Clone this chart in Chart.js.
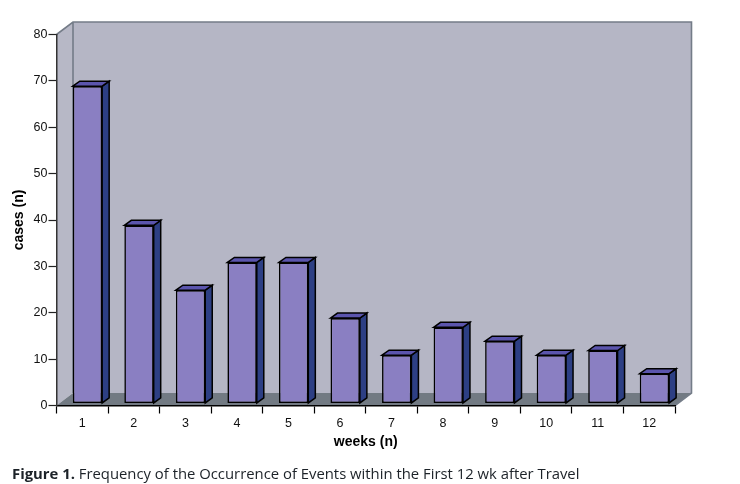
<!DOCTYPE html>
<html>
<head>
<meta charset="utf-8">
<script src="https://cdn.jsdelivr.net/npm/chart.js@4"></script>
<style>
html,body{margin:0;padding:0;background:#fff;width:740px;height:484px;overflow:hidden}
#c{position:absolute;left:0;top:0}
#cap{position:absolute;left:12px;top:462px;font:14.85px/22px "Open Sans","Noto Sans",sans-serif;color:#1c2228;white-space:nowrap}
</style>
</head>
<body>
<canvas id="c" width="740" height="484"></canvas>
<div id="cap"><b>Figure 1.</b> Frequency of the Occurrence of Events within the First 12 wk after Travel</div>
<script>
const weeks = ["1","2","3","4","5","6","7","8","9","10","11","12"];
const cases = [68,38,24,30,30,18,10,16,13,10,11,6];
const yMin = 0, yMax = 80, yStep = 10;
const xTitle = "weeks (n)";
const yTitle = "cases (n)";

const WALL_DX = 16.5, WALL_DY = 12.5, BAR_DX = 7, BAR_DY = 5, SHIFT_X = 5.2, SHIFT_Y = -4;

function poly(ctx, pts, fill, stroke, lw){
  ctx.beginPath();
  pts.forEach((p,i)=> i ? ctx.lineTo(p[0],p[1]) : ctx.moveTo(p[0],p[1]));
  ctx.closePath();
  if (fill){ ctx.fillStyle = fill; ctx.fill(); }
  if (stroke){ ctx.strokeStyle = stroke; ctx.lineWidth = lw; ctx.lineJoin = 'miter'; ctx.stroke(); }
}

const depth3d = {
  id: 'depth3d',
  beforeDraw(chart){
    const {ctx, chartArea:{left:l,right:r,top:t,bottom:b}} = chart;
    const dx = WALL_DX, dy = WALL_DY;
    ctx.save();
    poly(ctx, [[l+dx,t-dy],[r+dx,t-dy],[r+dx,b-dy],[l+dx,b-dy]], '#b5b6c5');
    poly(ctx, [[l,t],[l+dx,t-dy],[l+dx,b-dy],[l,b]], '#b7b8c6');
    poly(ctx, [[l,b],[l+dx,b-dy],[r+dx,b-dy],[r,b]], '#727a83');
    ctx.strokeStyle = '#747c88'; ctx.lineWidth = 1.6;
    ctx.beginPath();
    ctx.moveTo(l,t); ctx.lineTo(l+dx,t-dy); ctx.lineTo(r+dx,t-dy); ctx.lineTo(r+dx,b-dy);
    ctx.lineTo(r,b);
    ctx.moveTo(l+dx,t-dy); ctx.lineTo(l+dx,b-dy);
    ctx.stroke();
    ctx.restore();
  },
  beforeDatasetsDraw(chart){
    const ctx = chart.ctx;
    ctx.save();
    ctx.translate(SHIFT_X, SHIFT_Y);
    chart.getDatasetMeta(0).data.forEach(el=>{
      const xl = el.x - el.width/2, xr = el.x + el.width/2, y = el.y, bs = el.base;
      poly(ctx, [[xr,y],[xr+BAR_DX,y-BAR_DY],[xr+BAR_DX,bs-BAR_DY],[xr,bs]], '#2d3f84', '#000', 1.5);
      poly(ctx, [[xl,y],[xl+BAR_DX,y-BAR_DY],[xr+BAR_DX,y-BAR_DY],[xr,y]], '#5b55ad', '#000', 1.5);
    });
  },
  afterDatasetsDraw(chart){
    chart.ctx.restore();
  }
};

new Chart(document.getElementById('c'), {
  type: 'bar',
  data: {
    labels: weeks,
    datasets: [{
      data: cases,
      base: -0.32,
      clip: false,
      backgroundColor: '#8a7fc2',
      borderColor: '#000',
      borderWidth: 1.6,
      borderSkipped: false,
      barPercentage: 0.57,
      categoryPercentage: 1
    }]
  },
  plugins: [depth3d],
  options: {
    responsive: false,
    animation: false,
    layout: { padding: { left: 11, top: 34.5, right: 65, bottom: 33 } },
    plugins: { legend: { display: false }, tooltip: { enabled: false } },
    scales: {
      x: {
        grid: { drawOnChartArea: false, drawTicks: true, tickLength: 8, tickColor: '#000', tickWidth: 1.2 },
        border: { color: '#000', width: 1.5 },
        ticks: { color: '#111', font: { family: 'Liberation Sans', size: 12.5 }, padding: 3, maxRotation: 0 },
        title: { display: true, text: xTitle, color: '#000', font: { family: 'Liberation Sans', size: 14, weight: 'bold' }, padding: { top: 6, bottom: 0 } },
        afterFit(s){ s.height = 45.5; }
      },
      y: {
        min: yMin, max: yMax,
        grid: { drawOnChartArea: false, drawTicks: true, tickLength: 8, tickColor: '#222', tickWidth: 1.2 },
        border: { color: '#333', width: 1.5 },
        ticks: { stepSize: yStep, color: '#111', font: { family: 'Liberation Sans', size: 12.5 }, padding: 1 },
        title: { display: true, text: yTitle, color: '#000', font: { family: 'Liberation Sans', size: 14, weight: 'bold' }, padding: { top: 0, bottom: 8 } },
        afterFit(s){ s.width = 45.5; }
      }
    }
  }
});
</script>
</body>
</html>
